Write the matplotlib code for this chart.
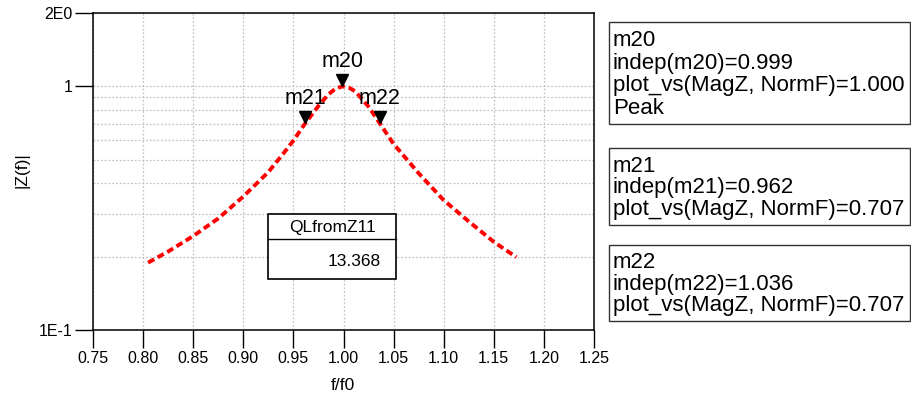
import matplotlib
matplotlib.use("Agg")
import matplotlib.pyplot as plt
from matplotlib.ticker import FixedLocator, NullFormatter
from matplotlib.transforms import offset_copy
from matplotlib.patches import Rectangle

plt.rcParams['font.family'] = ['Liberation Sans', 'DejaVu Sans']

# curve
norm_f = [0.805, 0.825, 0.85, 0.875, 0.90, 0.925, 0.94, 0.95, 0.962, 0.975,
          0.985, 0.992, 0.999, 1.006, 1.012, 1.025, 1.036, 1.05, 1.075, 1.10,
          1.125, 1.15, 1.1725]
mag_z = [0.189, 0.210, 0.243, 0.287, 0.353, 0.445, 0.530, 0.599, 0.707, 0.831,
         0.928, 0.978, 1.000, 0.985, 0.952, 0.825, 0.707, 0.580, 0.440, 0.341,
         0.279, 0.230, 0.199]

# markers
marker_names = ['m20', 'm21', 'm22']
marker_x = [0.999, 0.962, 1.036]
marker_y = [1.000, 0.707, 0.707]
marker_note = ['Peak', '', '']

ql_name = 'QLfromZ11'
ql_value = 13.368

x_ticks = [0.75, 0.80, 0.85, 0.90, 0.95, 1.00, 1.05, 1.10, 1.15, 1.20, 1.25]
y_ticks = [0.1, 1, 2]
y_labels = ['1E-1', '1', '2E0']
y_minor = [0.2, 0.3, 0.4, 0.5, 0.6, 0.7, 0.8, 0.9]

W, H = 912, 401
fig = plt.figure(figsize=(W / 100, H / 100), dpi=100)
ax = fig.add_axes([93 / W, 1 - 330 / H, (594 - 93) / W, (330 - 13) / H])


def fx(x):
    return x / W


def fy(y):
    return 1 - y / H


ax.plot(norm_f, mag_z, color='red', lw=2.8, dashes=(1.8, 1.0), zorder=3)

ax.set_yscale('log')
ax.set_xlim(0.75, 1.25)
ax.set_ylim(0.1, 2)
ax.xaxis.set_major_locator(FixedLocator(x_ticks))
ax.set_xticklabels(['%.2f' % t for t in x_ticks])
ax.yaxis.set_major_locator(FixedLocator(y_ticks))
ax.set_yticklabels(y_labels)
ax.yaxis.set_minor_locator(FixedLocator(y_minor))
ax.yaxis.set_minor_formatter(NullFormatter())
ax.tick_params(which='major', direction='out', length=13, width=1,
               labelsize=11.5, color='black', pad=2)
ax.tick_params(which='minor', length=0)
ax.grid(True, which='both', color='#c4c4c4', linestyle=(0, (1.5, 1.5)), lw=0.9)
for s in ax.spines.values():
    s.set_linewidth(1.1)
ax.set_xlabel('f/f0', fontsize=12.5)
ax.set_ylabel('|Z(f)|', fontsize=12.5)
ax.xaxis.set_label_coords((343 - 93) / (594 - 93), -(385 - 330) / (330 - 13))
ax.yaxis.set_label_coords(-(93 - 22) / (594 - 93), (330 - 170) / (330 - 13))
ax.xaxis.label.set_va('center')
ax.yaxis.label.set_va('center')

# marker triangles and their names
tri_tf = offset_copy(ax.transData, fig=fig, y=4.5, units='points')
ax.plot(marker_x, marker_y, 'v', color='black', ms=9, transform=tri_tf,
        zorder=4, clip_on=False)
for name, mx, my in zip(marker_names, marker_x, marker_y):
    ax.annotate(name, (mx, my), xytext=(0, 18), textcoords='offset points',
                ha='center', va='center', fontsize=15.5)

# QL table inside the plot
fig.add_artist(Rectangle((fx(268), fy(279)), (396 - 268) / W, (279 - 214) / H,
                         transform=fig.transFigure, facecolor='white',
                         edgecolor='black', lw=1.2))
fig.add_artist(plt.Line2D([fx(268), fx(396)], [fy(239), fy(239)],
                          transform=fig.transFigure, color='black', lw=1))
fig.text(fx(332), fy(227), ql_name, ha='center', va='center', fontsize=12.5)
fig.text(fx(381), fy(261), '%.3f' % ql_value, ha='right', va='center',
         fontsize=12.5)

# marker readout boxes on the right
box_tops = [22, 148, 245]
box_step = [23, 22, 21.5]
for name, mx, my, note, top, step in zip(marker_names, marker_x, marker_y,
                                         marker_note, box_tops, box_step):
    lines = [name, 'indep(%s)=%.3f' % (name, mx),
             'plot_vs(MagZ, NormF)=%.3f' % my]
    if note:
        lines.append(note)
    hgt = 18 + step * (len(lines) - 1) + 15
    fig.add_artist(Rectangle((fx(609), fy(top + hgt)), (910 - 609) / W,
                             hgt / H, transform=fig.transFigure,
                             facecolor='white', edgecolor='#333333', lw=1))
    for i, ln in enumerate(lines):
        fig.text(fx(613), fy(top + 18 + step * i), ln, ha='left',
                 va='center', fontsize=16)

fig.savefig('out.png', dpi=100)
